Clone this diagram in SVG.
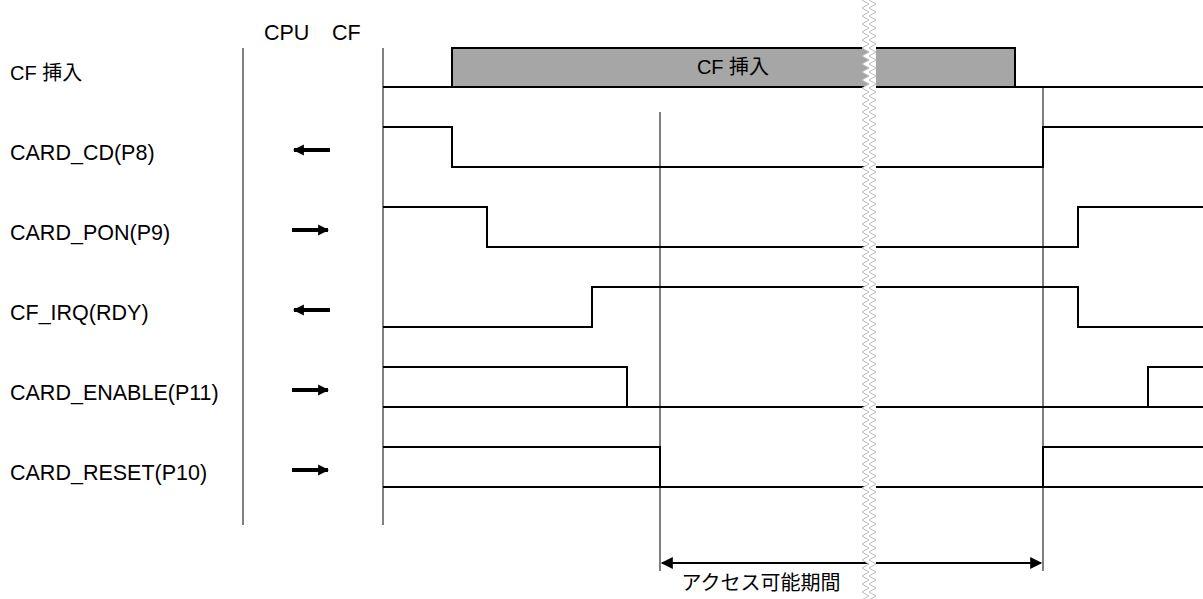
<svg xmlns="http://www.w3.org/2000/svg" width="1203" height="599" viewBox="0 0 1203 599">
<style>
text{font-family:"Liberation Sans","Noto Sans CJK JP",Arial,sans-serif;font-size:20px;fill:#000}
.lbl{font-size:21.5px}
.sig{fill:none;stroke:#000;stroke-width:2}
.axis{stroke:#808080;stroke-width:2}
.thin{stroke:#000;stroke-width:1}
.dir{stroke:#000;stroke-width:4}
.zz{fill:none;stroke:#bdbdbd;stroke-width:1}
</style>
<defs>
<marker id="ah" viewBox="0 0 10 10" refX="9" refY="5" markerWidth="11" markerHeight="12" markerUnits="userSpaceOnUse" orient="auto-start-reverse">
<path d="M0,0 L10,5 L0,10 Z" fill="#000"/>
</marker>
<marker id="dh" viewBox="0 0 10 10" refX="9" refY="5" markerWidth="15" markerHeight="12" markerUnits="userSpaceOnUse" orient="auto-start-reverse">
<path d="M0,0 L10,5 L0,10 Z" fill="#000"/>
</marker>
</defs>
<rect width="1203" height="599" fill="#fff"/>
<g id="axes">
<text class="lbl" x="264" y="40">CPU</text>
<text class="lbl" x="332" y="40">CF</text>
<line class="axis" x1="243" y1="48" x2="243" y2="525"/>
<line class="axis" x1="383" y1="48" x2="383" y2="525"/>
</g>
<g id="cf-insert">
<text x="10" y="80">CF 挿入</text>
<line class="sig" x1="383" y1="87" x2="1203" y2="87"/>
<rect x="452" y="48" width="563" height="39" fill="#a6a6a6" stroke="#000" stroke-width="2"/>
<text x="733" y="74" text-anchor="middle">CF 挿入</text>
</g>
<g id="card-cd">
<text class="lbl" x="10" y="160">CARD_CD(P8)</text>
<polyline class="sig" points="383,127 452,127 452,167 1043,167 1043,127 1203,127"/>
</g>
<g id="card-pon">
<text class="lbl" x="10" y="240">CARD_PON(P9)</text>
<polyline class="sig" points="383,207 487,207 487,247 1078,247 1078,207 1203,207"/>
</g>
<g id="cf-irq">
<text class="lbl" x="10" y="320">CF_IRQ(RDY)</text>
<polyline class="sig" points="383,327 592,327 592,287 1078,287 1078,327 1203,327"/>
</g>
<g id="card-enable">
<text class="lbl" x="10" y="400">CARD_ENABLE(P11)</text>
<polyline class="sig" points="383,367 627,367 627,407"/>
<line class="sig" x1="383" y1="407" x2="1203" y2="407"/>
<polyline class="sig" points="1148,407 1148,367 1203,367"/>
</g>
<g id="card-reset">
<text class="lbl" x="10" y="480">CARD_RESET(P10)</text>
<polyline class="sig" points="383,447 660,447 660,487"/>
<line class="sig" x1="383" y1="487" x2="1203" y2="487"/>
<polyline class="sig" points="1043,487 1043,447 1203,447"/>
</g>
<g id="access-period">
<line class="thin" x1="660" y1="112" x2="660" y2="571"/>
<line class="thin" x1="1043" y1="87" x2="1043" y2="571"/>
<text x="761" y="590" text-anchor="middle">アクセス可能期間</text>
</g>
<g id="connectors">
<line class="dir" x1="330" y1="150" x2="294" y2="150" marker-end="url(#ah)"/>
<line class="dir" x1="292" y1="230" x2="328" y2="230" marker-end="url(#ah)"/>
<line class="dir" x1="330" y1="310" x2="294" y2="310" marker-end="url(#ah)"/>
<line class="dir" x1="292" y1="390" x2="328" y2="390" marker-end="url(#ah)"/>
<line class="dir" x1="292" y1="470" x2="328" y2="470" marker-end="url(#ah)"/>
<line x1="662" y1="563" x2="1041" y2="563" stroke="#000" stroke-width="2" marker-start="url(#dh)" marker-end="url(#dh)"/>
</g>
<g id="break">
<path fill="#fff" d="M862,0 l7,4 -7,4 7,4 -7,4 7,4 -7,4 7,4 -7,4 7,4 -7,4 7,4 -7,4 7,4 -7,4 7,4 -7,4 7,4 -7,4 7,4 -7,4 7,4 -7,4 7,4 -7,4 7,4 -7,4 7,4 -7,4 7,4 -7,4 7,4 -7,4 7,4 -7,4 7,4 -7,4 7,4 -7,4 7,4 -7,4 7,4 -7,4 7,4 -7,4 7,4 -7,4 7,4 -7,4 7,4 -7,4 7,4 -7,4 7,4 -7,4 7,4 -7,4 7,4 -7,4 7,4 -7,4 7,4 -7,4 7,4 -7,4 7,4 -7,4 7,4 -7,4 7,4 -7,4 7,4 -7,4 7,4 -7,4 7,4 -7,4 7,4 -7,4 7,4 -7,4 7,4 -7,4 7,4 -7,4 7,4 -7,4 7,4 -7,4 7,4 -7,4 7,4 -7,4 7,4 -7,4 7,4 -7,4 7,4 -7,4 7,4 -7,4 7,4 -7,4 7,4 -7,4 7,4 -7,4 7,4 -7,4 7,4 -7,4 7,4 -7,4 7,4 -7,4 7,4 -7,4 7,4 -7,4 7,4 -7,4 7,4 -7,4 7,4 -7,4 7,4 -7,4 7,4 -7,4 7,4 -7,4 7,4 -7,4 7,4 -7,4 7,4 -7,4 7,4 -7,4 7,4 -7,4 7,4 -7,4 7,4 -7,4 7,4 -7,4 7,4 -7,4 7,4 -7,4 7,4 -7,4 7,4 -7,4 L876,600 L876,0 Z"/>
<path class="zz" id="zl" d="M862,0 l7,4 -7,4 7,4 -7,4 7,4 -7,4 7,4 -7,4 7,4 -7,4 7,4 -7,4 7,4 -7,4 7,4 -7,4 7,4 -7,4 7,4 -7,4 7,4 -7,4 7,4 -7,4 7,4 -7,4 7,4 -7,4 7,4 -7,4 7,4 -7,4 7,4 -7,4 7,4 -7,4 7,4 -7,4 7,4 -7,4 7,4 -7,4 7,4 -7,4 7,4 -7,4 7,4 -7,4 7,4 -7,4 7,4 -7,4 7,4 -7,4 7,4 -7,4 7,4 -7,4 7,4 -7,4 7,4 -7,4 7,4 -7,4 7,4 -7,4 7,4 -7,4 7,4 -7,4 7,4 -7,4 7,4 -7,4 7,4 -7,4 7,4 -7,4 7,4 -7,4 7,4 -7,4 7,4 -7,4 7,4 -7,4 7,4 -7,4 7,4 -7,4 7,4 -7,4 7,4 -7,4 7,4 -7,4 7,4 -7,4 7,4 -7,4 7,4 -7,4 7,4 -7,4 7,4 -7,4 7,4 -7,4 7,4 -7,4 7,4 -7,4 7,4 -7,4 7,4 -7,4 7,4 -7,4 7,4 -7,4 7,4 -7,4 7,4 -7,4 7,4 -7,4 7,4 -7,4 7,4 -7,4 7,4 -7,4 7,4 -7,4 7,4 -7,4 7,4 -7,4 7,4 -7,4 7,4 -7,4 7,4 -7,4 7,4 -7,4 7,4 -7,4 7,4 -7,4 7,4 -7,4 7,4 -7,4 7,4 -7,4 7,4 -7,4 7,4 -7,4"/>
<use href="#zl" x="7"/>
</g>
</svg>
